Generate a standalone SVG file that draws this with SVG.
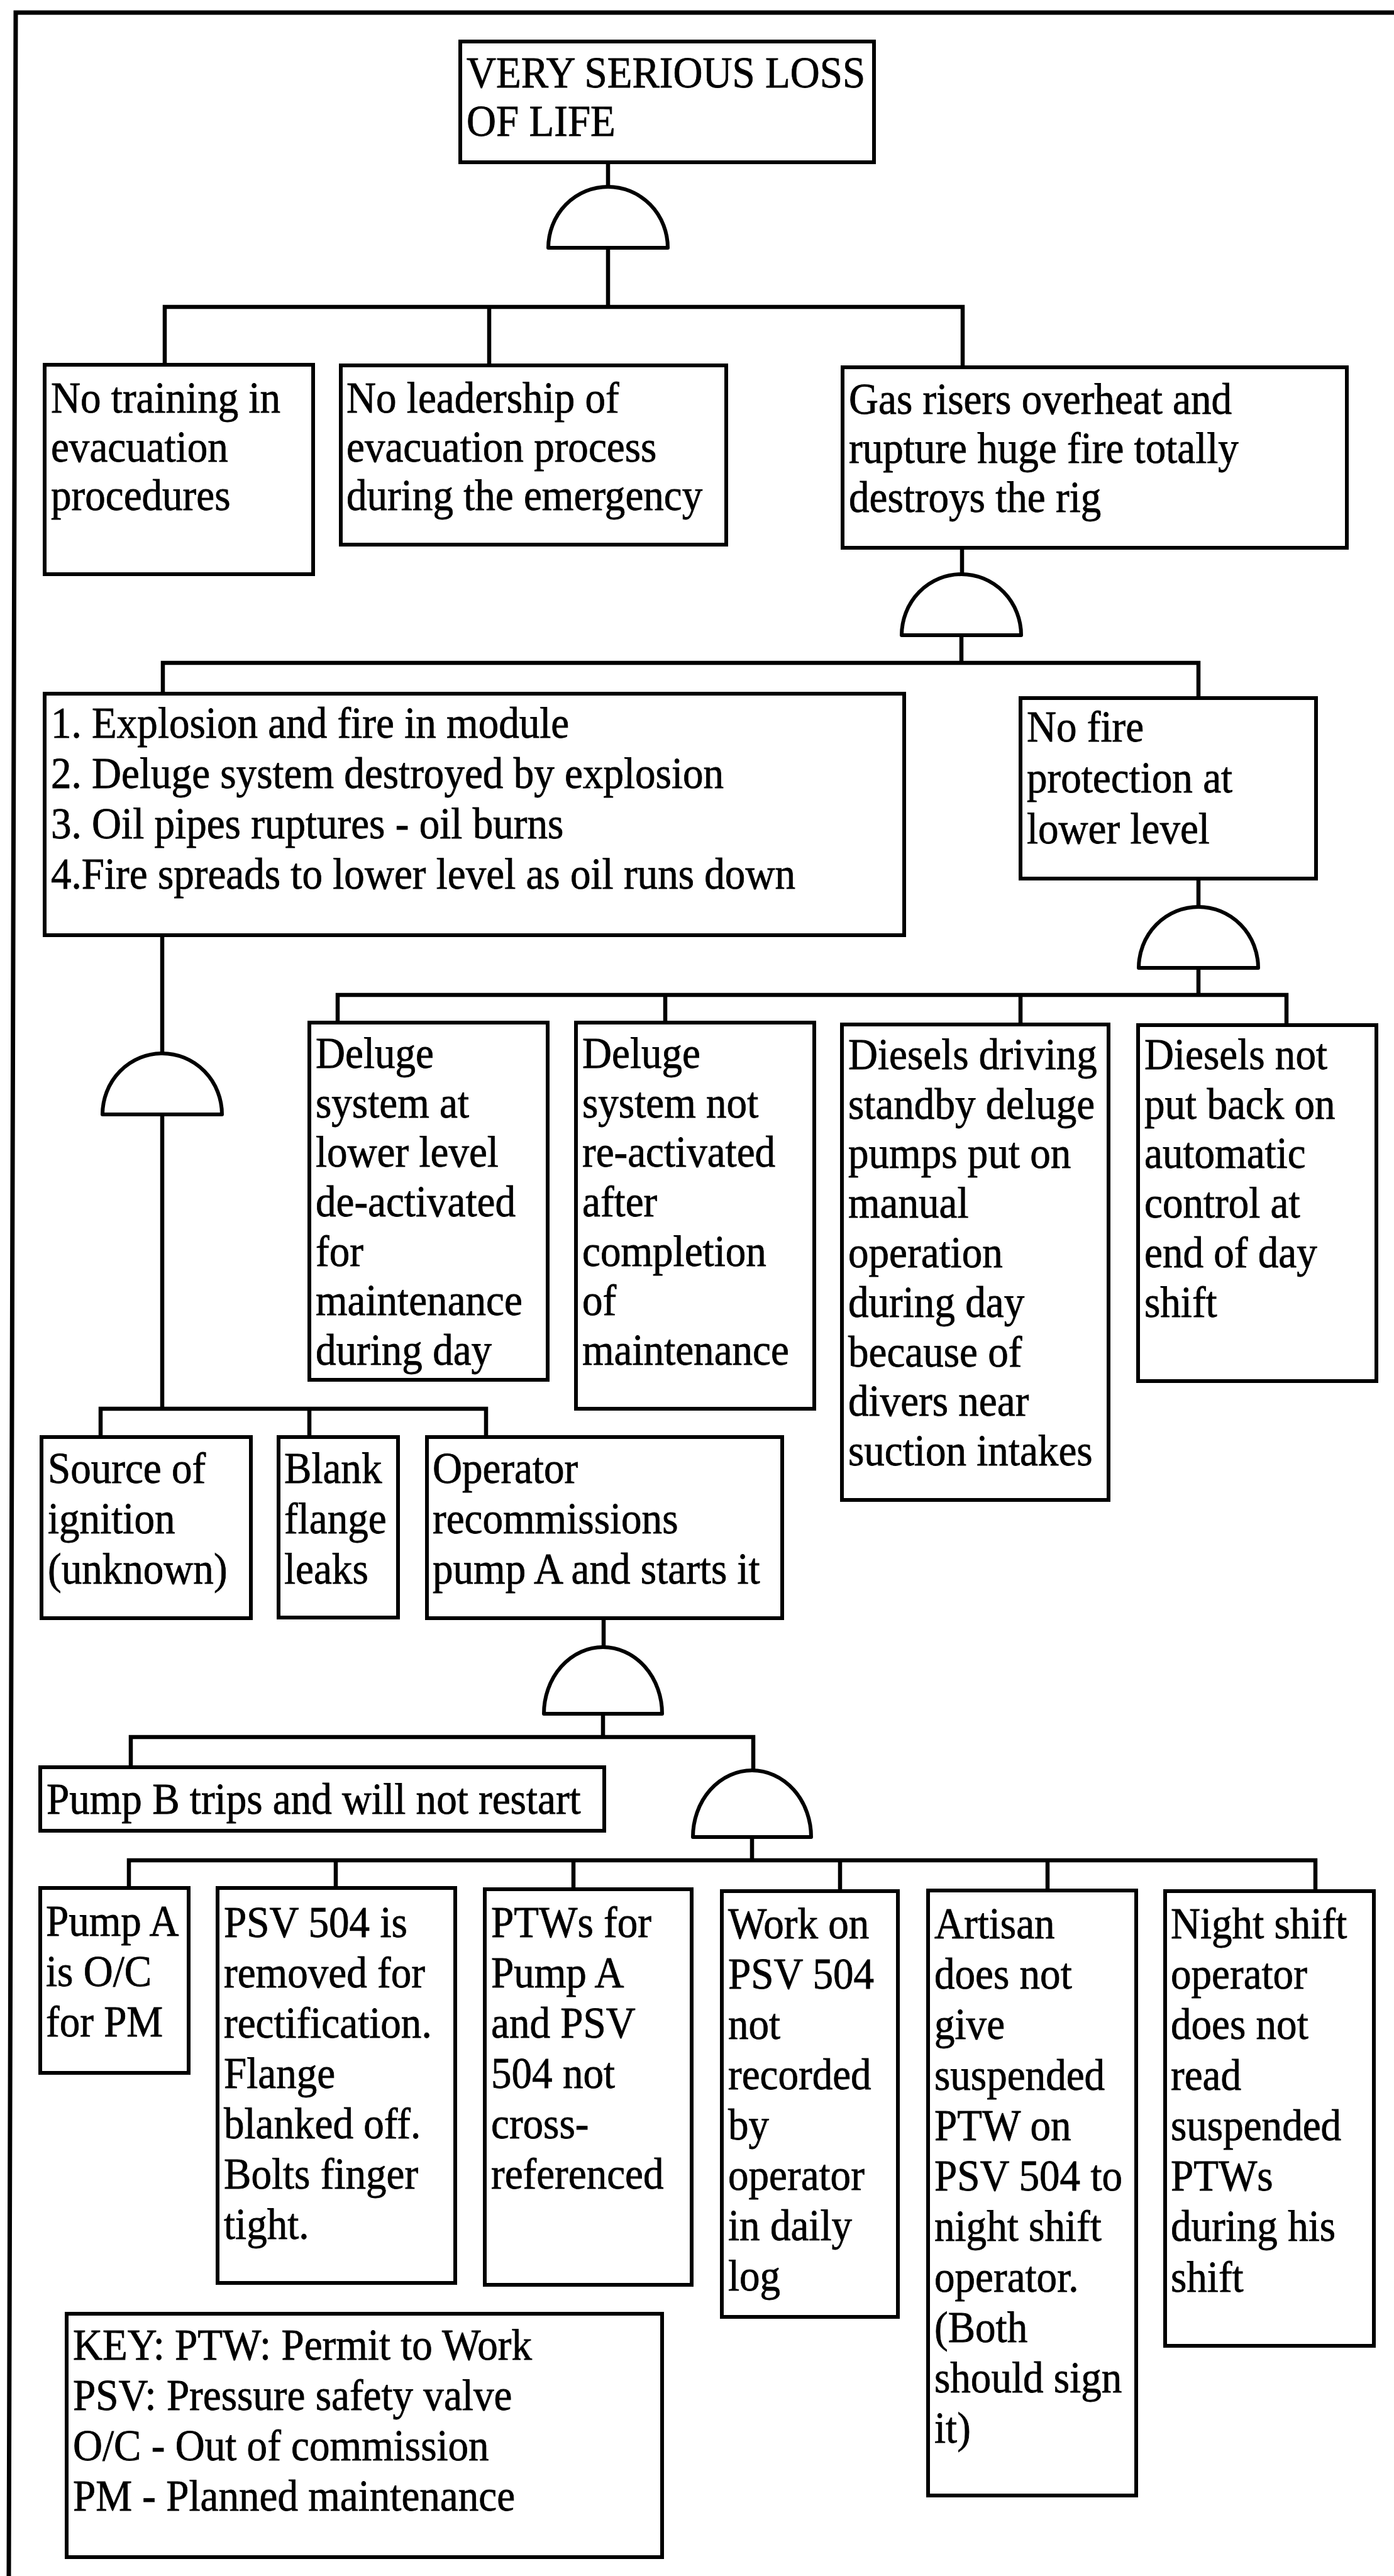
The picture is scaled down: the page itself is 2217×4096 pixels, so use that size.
<svg xmlns="http://www.w3.org/2000/svg" xmlns:xlink="http://www.w3.org/1999/xlink" width="2217" height="4096" viewBox="0 0 2217 4096">
  <style>
    .box { fill: #ffffff; stroke: #000000; stroke-width: 6; }
    .gate { fill: #ffffff; stroke: #000000; stroke-width: 6; stroke-linejoin: round; }
    .wire { fill: none; stroke: #000000; stroke-width: 6.5; stroke-linecap: square; }
    .frame { fill: none; stroke: #000000; stroke-width: 7; }
    text { font-family: "Liberation Serif", "Times New Roman", serif; font-size: 70px; fill: #000000; stroke: #000000; stroke-width: 0.8px; }
  </style>
  <defs>
    <!-- AND gate: dome with flat base, origin at the middle of the base -->
    <path id="and-gate" d="M-95,0 A95,97 0 0 1 95,0 Z"/>
    <path id="and-gate-tall" d="M-94,0 A94,106 0 0 1 94,0 Z"/>
  </defs>

  <rect width="2217" height="4096" fill="#ffffff"/>

  <!-- page frame (open on the right and bottom) -->
  <g id="frame">
    <path class="frame" d="M2217,20 H25 L14,4096"/>
  </g>

  <!-- connectors: tree lines and gates -->
  <g id="connectors">
    <path class="wire" d="M967,258 V297 M967,394 V488 M262,580 V488 H1531 V584 M778,488 V581"/>
    <path class="wire" d="M1530,871 V914 M1529,1010 V1054 M259,1103 V1054 H1906 V1110"/>
    <path class="wire" d="M1906,1397 V1444 M1906,1539 V1582 M537,1626 V1582 H2046 V1630 M1058,1582 V1626 M1623,1582 V1629"/>
    <path class="wire" d="M258,1487 V1676 M258,1772 V2240 M160,2285 V2240 H773 V2285 M492,2240 V2285"/>
    <path class="wire" d="M960,2573 V2619 M959,2725 V2762 M208,2810 V2762 H1198 V2814"/>
    <path class="wire" d="M1196,2921 V2958 M205,3002 V2958 H2092 V3007 M534,2958 V3002 M912,2958 V3004 M1336,2958 V3007 M1666,2958 V3006"/>
    <use xlink:href="#and-gate" class="gate" x="967" y="394"/>
    <use xlink:href="#and-gate" class="gate" x="1529" y="1010"/>
    <use xlink:href="#and-gate" class="gate" x="1906" y="1539"/>
    <use xlink:href="#and-gate" class="gate" x="258" y="1772"/>
    <use xlink:href="#and-gate-tall" class="gate" x="959" y="2725"/>
    <use xlink:href="#and-gate-tall" class="gate" x="1196" y="2921"/>
  </g>

  <!-- text blocks are set slightly condensed (scaled 0.93 horizontally about their left edge) -->
  <g id="top-event">
    <rect class="box" x="732" y="66" width="658" height="192"/>
    <text transform="translate(742 0) scale(0.93 1) translate(-742 0)"><tspan x="742" y="139">VERY SERIOUS LOSS</tspan><tspan x="742" y="216">OF LIFE</tspan></text>
  </g>

  <g id="no-training">
    <rect class="box" x="71" y="580" width="427" height="333"/>
    <text transform="translate(81 0) scale(0.93 1) translate(-81 0)"><tspan x="81" y="656">No training in</tspan><tspan x="81" y="734">evacuation</tspan><tspan x="81" y="811">procedures</tspan></text>
  </g>

  <g id="no-leadership">
    <rect class="box" x="542" y="581" width="613" height="285"/>
    <text transform="translate(551 0) scale(0.93 1) translate(-551 0)"><tspan x="551" y="656">No leadership of</tspan><tspan x="551" y="734">evacuation process</tspan><tspan x="551" y="811">during the emergency</tspan></text>
  </g>

  <g id="gas-risers">
    <rect class="box" x="1340" y="584" width="802" height="287"/>
    <text transform="translate(1350 0) scale(0.93 1) translate(-1350 0)"><tspan x="1350" y="658">Gas risers overheat and</tspan><tspan x="1350" y="736">rupture huge fire totally</tspan><tspan x="1350" y="814">destroys the rig</tspan></text>
  </g>

  <g id="explosion-sequence">
    <rect class="box" x="71" y="1103" width="1367" height="384"/>
    <text transform="translate(81 0) scale(0.93 1) translate(-81 0)"><tspan x="81" y="1173">1. Explosion and fire in module</tspan><tspan x="81" y="1253">2. Deluge system destroyed by explosion</tspan><tspan x="81" y="1333">3. Oil pipes ruptures - oil burns</tspan><tspan x="81" y="1413">4.Fire spreads to lower level as oil runs down</tspan></text>
  </g>

  <g id="no-fire-protection">
    <rect class="box" x="1623" y="1110" width="470" height="287"/>
    <text transform="translate(1633 0) scale(0.93 1) translate(-1633 0)"><tspan x="1633" y="1179">No fire</tspan><tspan x="1633" y="1260">protection at</tspan><tspan x="1633" y="1341">lower level</tspan></text>
  </g>

  <g id="deluge-deactivated">
    <rect class="box" x="492" y="1626" width="379" height="568"/>
    <text transform="translate(502 0) scale(0.93 1) translate(-502 0)"><tspan x="502" y="1698">Deluge</tspan><tspan x="502" y="1777">system at</tspan><tspan x="502" y="1855">lower level</tspan><tspan x="502" y="1934">de-activated</tspan><tspan x="502" y="2013">for</tspan><tspan x="502" y="2091">maintenance</tspan><tspan x="502" y="2170">during day</tspan></text>
  </g>

  <g id="deluge-not-reactivated">
    <rect class="box" x="916" y="1626" width="379" height="614"/>
    <text transform="translate(926 0) scale(0.93 1) translate(-926 0)"><tspan x="926" y="1698">Deluge</tspan><tspan x="926" y="1777">system not</tspan><tspan x="926" y="1855">re-activated</tspan><tspan x="926" y="1934">after</tspan><tspan x="926" y="2013">completion</tspan><tspan x="926" y="2091">of</tspan><tspan x="926" y="2170">maintenance</tspan></text>
  </g>

  <g id="diesels-manual">
    <rect class="box" x="1339" y="1629" width="424" height="756"/>
    <text transform="translate(1349 0) scale(0.93 1) translate(-1349 0)"><tspan x="1349" y="1700">Diesels driving</tspan><tspan x="1349" y="1779">standby deluge</tspan><tspan x="1349" y="1857">pumps put on</tspan><tspan x="1349" y="1936">manual</tspan><tspan x="1349" y="2015">operation</tspan><tspan x="1349" y="2094">during day</tspan><tspan x="1349" y="2173">because of</tspan><tspan x="1349" y="2251">divers near</tspan><tspan x="1349" y="2330">suction intakes</tspan></text>
  </g>

  <g id="diesels-not-automatic">
    <rect class="box" x="1810" y="1630" width="379" height="566"/>
    <text transform="translate(1820 0) scale(0.93 1) translate(-1820 0)"><tspan x="1820" y="1700">Diesels not</tspan><tspan x="1820" y="1779">put back on</tspan><tspan x="1820" y="1857">automatic</tspan><tspan x="1820" y="1936">control at</tspan><tspan x="1820" y="2015">end of day</tspan><tspan x="1820" y="2094">shift</tspan></text>
  </g>

  <g id="source-of-ignition">
    <rect class="box" x="66" y="2285" width="333" height="288"/>
    <text transform="translate(76 0) scale(0.93 1) translate(-76 0)"><tspan x="76" y="2358">Source of</tspan><tspan x="76" y="2438">ignition</tspan><tspan x="76" y="2518">(unknown)</tspan></text>
  </g>

  <g id="blank-flange">
    <rect class="box" x="443" y="2285" width="190" height="287"/>
    <text transform="translate(452 0) scale(0.93 1) translate(-452 0)"><tspan x="452" y="2358">Blank</tspan><tspan x="452" y="2438">flange</tspan><tspan x="452" y="2518">leaks</tspan></text>
  </g>

  <g id="operator-recommissions">
    <rect class="box" x="679" y="2285" width="565" height="288"/>
    <text transform="translate(688 0) scale(0.93 1) translate(-688 0)"><tspan x="688" y="2358">Operator</tspan><tspan x="688" y="2438">recommissions</tspan><tspan x="688" y="2518">pump A and starts it</tspan></text>
  </g>

  <g id="pump-b-trips">
    <rect class="box" x="64" y="2810" width="897" height="101"/>
    <text transform="translate(74 0) scale(0.93 1) translate(-74 0)"><tspan x="74" y="2884">Pump B trips and will not restart</tspan></text>
  </g>

  <g id="pump-a-oc">
    <rect class="box" x="64" y="3002" width="236" height="294"/>
    <text transform="translate(73 0) scale(0.93 1) translate(-73 0)"><tspan x="73" y="3078">Pump A</tspan><tspan x="73" y="3158">is O/C</tspan><tspan x="73" y="3238">for PM</tspan></text>
  </g>

  <g id="psv-removed">
    <rect class="box" x="346" y="3002" width="378" height="628"/>
    <text transform="translate(356 0) scale(0.93 1) translate(-356 0)"><tspan x="356" y="3080">PSV 504 is</tspan><tspan x="356" y="3160">removed for</tspan><tspan x="356" y="3240">rectification.</tspan><tspan x="356" y="3320">Flange</tspan><tspan x="356" y="3400">blanked off.</tspan><tspan x="356" y="3480">Bolts finger</tspan><tspan x="356" y="3560">tight.</tspan></text>
  </g>

  <g id="ptws-not-crossreferenced">
    <rect class="box" x="771" y="3004" width="329" height="629"/>
    <text transform="translate(781 0) scale(0.93 1) translate(-781 0)"><tspan x="781" y="3080">PTWs for</tspan><tspan x="781" y="3160">Pump A</tspan><tspan x="781" y="3240">and PSV</tspan><tspan x="781" y="3320">504 not</tspan><tspan x="781" y="3400">cross-</tspan><tspan x="781" y="3480">referenced</tspan></text>
  </g>

  <g id="work-not-recorded">
    <rect class="box" x="1148" y="3007" width="280" height="677"/>
    <text transform="translate(1158 0) scale(0.93 1) translate(-1158 0)"><tspan x="1158" y="3082">Work on</tspan><tspan x="1158" y="3162">PSV 504</tspan><tspan x="1158" y="3242">not</tspan><tspan x="1158" y="3322">recorded</tspan><tspan x="1158" y="3402">by</tspan><tspan x="1158" y="3482">operator</tspan><tspan x="1158" y="3562">in daily</tspan><tspan x="1158" y="3642">log</tspan></text>
  </g>

  <g id="artisan-handover">
    <rect class="box" x="1476" y="3006" width="331" height="962"/>
    <text transform="translate(1486 0) scale(0.93 1) translate(-1486 0)"><tspan x="1486" y="3082">Artisan</tspan><tspan x="1486" y="3162">does not</tspan><tspan x="1486" y="3242">give</tspan><tspan x="1486" y="3323">suspended</tspan><tspan x="1486" y="3403">PTW on</tspan><tspan x="1486" y="3483">PSV 504 to</tspan><tspan x="1486" y="3563">night shift</tspan><tspan x="1486" y="3644">operator.</tspan><tspan x="1486" y="3724">(Both</tspan><tspan x="1486" y="3804">should sign</tspan><tspan x="1486" y="3884">it)</tspan></text>
  </g>

  <g id="night-shift-operator">
    <rect class="box" x="1853" y="3007" width="332" height="723"/>
    <text transform="translate(1862 0) scale(0.93 1) translate(-1862 0)"><tspan x="1862" y="3082">Night shift</tspan><tspan x="1862" y="3162">operator</tspan><tspan x="1862" y="3242">does not</tspan><tspan x="1862" y="3323">read</tspan><tspan x="1862" y="3403">suspended</tspan><tspan x="1862" y="3483">PTWs</tspan><tspan x="1862" y="3563">during his</tspan><tspan x="1862" y="3644">shift</tspan></text>
  </g>

  <g id="key">
    <rect class="box" x="106" y="3679" width="947" height="387"/>
    <text transform="translate(116 0) scale(0.93 1) translate(-116 0)"><tspan x="116" y="3752">KEY: PTW: Permit to Work</tspan><tspan x="116" y="3832">PSV: Pressure safety valve</tspan><tspan x="116" y="3912">O/C - Out of commission</tspan><tspan x="116" y="3992">PM - Planned maintenance</tspan></text>
  </g>
</svg>
